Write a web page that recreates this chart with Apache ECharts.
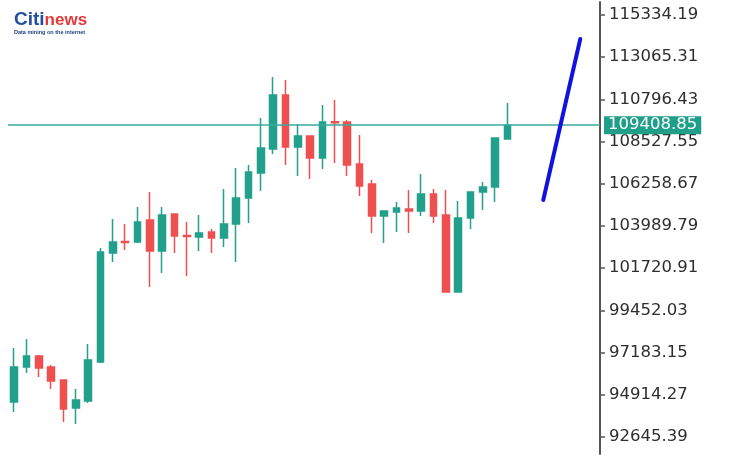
<!DOCTYPE html>
<html>
<head>
<meta charset="utf-8">
<script src="https://cdn.jsdelivr.net/npm/echarts@6/dist/echarts.min.js"></script>
<style>
html,body{margin:0;padding:0;background:#fff;}
#c{width:729px;height:458px;}
</style>
</head>
<body>
<div id="c"></div>
<script>
// ---- data ----
var categories = [];
for (var i = 1; i <= 48; i++) categories.push(String(i));

// [open, close, low, high]
var opens  = [94527, 96409, 97000, 96409, 95710, 94205, 94581, 96678, 102538, 103160,
              103130, 104312, 102646, 104635, 103480, 103398, 103667, 103345, 104097, 105495,
              106839, 108130, 111033, 108237, 108829, 107646, 109600, 109581, 107323, 106248,
              104527, 104743, 104904, 104796, 105710, 104581, 100441, 104420, 105818, 106087,
              108667];
var closes = [96409, 97000, 96355, 95656, 94151, 94635, 96785, 102592, 103130, 103100,
              104205, 102646, 104581, 103452, 103420, 103614, 103345, 104097, 105495, 106893,
              108184, 111033, 108237, 108829, 107646, 109581, 109540, 107270, 106140, 104527,
              104796, 104958, 104796, 105710, 104527, 100441, 104420, 105818, 106087, 108721,
              109408.85];
var lows   = [93990, 96086, 95871, 95226, 93452, 93344, 94473, 96624, 102054, 102699,
              103076, 100710, 101463, 102538, 101302, 102646, 102538, 102861, 102054, 104151,
              105872, 107861, 107270, 106678, 106517, 107054, 107377, 106678, 105603, 103614,
              103076, 103667, 103614, 104527, 104151, 100400, 100400, 103829, 104850, 105280,
              108640];
var highs  = [97431, 97914, 97050, 96517, 95710, 95226, 97646, 102807, 104366, 104097,
              105011, 105818, 105011, 104680, 104205, 104581, 103829, 105979, 107108, 107270,
              109796, 112001, 111840, 109474, 108850, 110495, 110764, 109689, 108882, 106463,
              104830, 105280, 105925, 106786, 105979, 105925, 105334, 105850, 106356, 108760,
              110603];

var currentPrice = 109408.85;

// projection line: [category position, value]
var projX = [42.9, 45.9];
var projY = [105388, 114044];

var yTicks = [92645.39, 94914.27, 97183.15, 99452.03, 101720.91, 103989.79,
              106258.67, 108527.55, 110796.43, 113065.31, 115334.19];

// ---- build ----
var candleData = opens.map(function (o, i) { return [o, closes[i], lows[i], highs[i]]; });
var projData = projX.map(function (x, i) { return [x, projY[i]]; });

var yMin = yTicks[0], yMax = yTicks[yTicks.length - 1];
var yInt = +( (yMax - yMin) / (yTicks.length - 1) ).toFixed(2);

var chart = echarts.init(document.getElementById('c'), null, {renderer: 'canvas'});
var GREEN = '#22a08c', RED = '#ee5050', TEAL = '#3aaa9c';

chart.setOption({
  backgroundColor: '#ffffff',
  animation: false,
  title: {
    left: 9, top: 6,
    text: '{a|Citi}{b|news}\n{c|Data mining on the internet}',
    textStyle: {
      rich: {
        a: {fontFamily: 'Liberation Sans', fontSize: 19, fontWeight: 'bold', color: '#1e4fa3', lineHeight: 18},
        b: {fontFamily: 'Liberation Sans', fontSize: 17, color: '#e23a3a', lineHeight: 18},
        c: {fontFamily: 'Liberation Sans', fontSize: 5.5, color: '#1e3f80', lineHeight: 7}
      }
    }
  },
  grid: [
    {left: 8, right: 129, top: 15, bottom: 21},
    {left: 8, right: 129, top: 2, bottom: 4}
  ],
  xAxis: [
    {type: 'category', data: categories, gridIndex: 0, boundaryGap: true, show: false},
    {type: 'value', gridIndex: 0, min: -0.5, max: categories.length - 0.5, show: false},
    {type: 'value', gridIndex: 1, min: 0, max: 1, show: false}
  ],
  yAxis: [
    {
      type: 'value', gridIndex: 0, position: 'right', scale: true,
      min: yMin, max: yMax, interval: yInt,
      splitLine: {show: false},
      axisLine: {show: false, onZero: false},
      axisTick: {show: true, inside: false, length: 5, lineStyle: {color: '#555', width: 1.5}},
      axisLabel: {
        show: true, margin: 9, color: '#2e2e2e',
        fontFamily: 'DejaVu Sans', fontSize: 16.5,
        showMinLabel: true, showMaxLabel: true,
        formatter: function (v) { return v.toFixed(2); }
      }
    },
    {
      type: 'value', gridIndex: 1, position: 'right', min: 0, max: 1,
      splitLine: {show: false},
      axisLine: {show: true, onZero: false, lineStyle: {color: '#555', width: 2}},
      axisTick: {show: false},
      axisLabel: {show: false}
    }
  ],
  series: [
    {
      type: 'candlestick',
      xAxisIndex: 0, yAxisIndex: 0,
      data: candleData,
      barWidth: 7,
      itemStyle: {
        color: GREEN, color0: RED,
        borderColor: GREEN, borderColor0: RED,
        borderWidth: 1.5
      },
      markLine: {
        silent: true,
        symbol: ['none', 'none'],
        lineStyle: {color: TEAL, width: 1.5, type: 'solid'},
        label: {
          show: true, position: 'end', distance: 4,
          formatter: function () { return currentPrice.toFixed(2); },
          backgroundColor: '#1f9e8a', color: '#ffffff',
          fontFamily: 'DejaVu Sans', fontSize: 16.5,
          padding: [1, 4, 0, 4]
        },
        data: [{yAxis: currentPrice}]
      }
    },
    {
      type: 'line',
      xAxisIndex: 1, yAxisIndex: 0,
      data: projData,
      symbol: 'none',
      lineStyle: {color: '#1212e0', width: 4, cap: 'round'},
      z: 5
    }
  ]
});
</script>
</body>
</html>
